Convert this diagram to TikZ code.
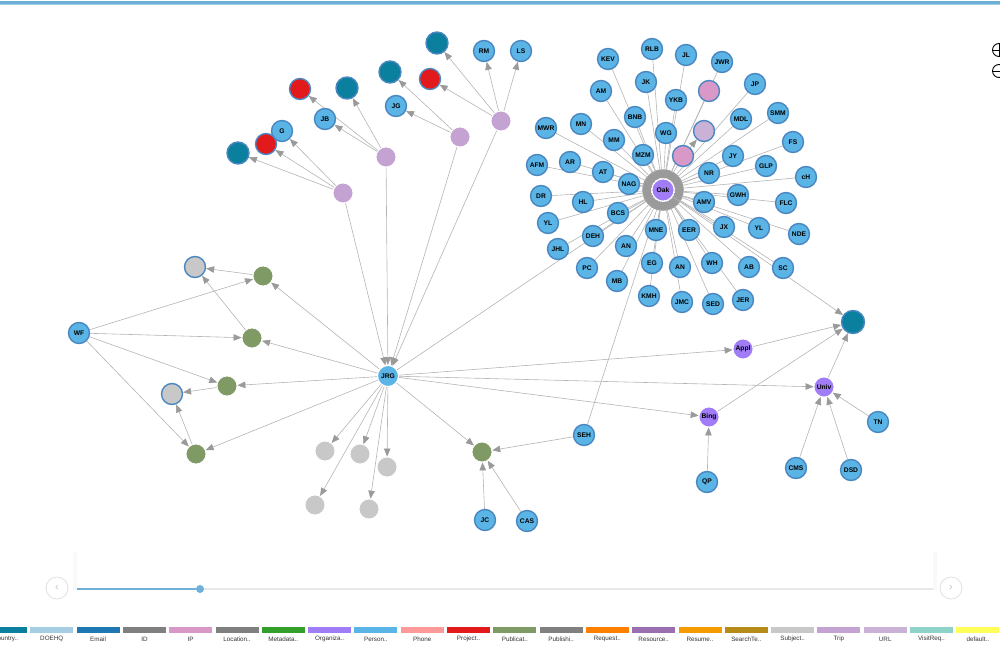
\documentclass[tikz,border=0pt]{standalone}
\usepackage{fontspec}
\setmainfont{Liberation Sans}
\usetikzlibrary{arrows.meta}
\definecolor{countryc}{HTML}{0B7F9E}
\definecolor{doehqc}{HTML}{A6CEE3}
\definecolor{emailc}{HTML}{1F78B4}
\definecolor{idc}{HTML}{808080}
\definecolor{ipc}{HTML}{D899C8}
\definecolor{metac}{HTML}{33A02C}
\definecolor{orgc}{HTML}{A07CF6}
\definecolor{personc}{HTML}{5AB4E5}
\definecolor{phonec}{HTML}{FB9A99}
\definecolor{projc}{HTML}{E31A1C}
\definecolor{pubc}{HTML}{7F9A65}
\definecolor{requestc}{HTML}{FF7F00}
\definecolor{resourcec}{HTML}{9A6FB0}
\definecolor{resumec}{HTML}{F59B00}
\definecolor{searchc}{HTML}{B58A17}
\definecolor{subjc}{HTML}{C8C8C8}
\definecolor{tripc}{HTML}{C4A3D3}
\definecolor{urlc}{HTML}{CAB2D6}
\definecolor{visitc}{HTML}{8DD3C7}
\definecolor{defc}{HTML}{FFFF5A}
\definecolor{bordc}{HTML}{4A86C0}
\definecolor{edgec}{HTML}{B4B4B4}
\definecolor{arrc}{HTML}{9A9A9A}
\definecolor{topc}{HTML}{6BAED6}
\definecolor{topc2}{HTML}{A5CDE6}
\definecolor{slidec}{HTML}{6FB0DA}
\newcommand\nodefont{\fontsize{6.7}{7}\selectfont\bfseries}
\newcommand\legfont{\fontsize{6.3}{7}\selectfont}
\pgfdeclarelayer{bg}
\pgfsetlayers{bg,main}
\tikzset{
  nd/.style={circle, inner sep=0pt, minimum size=21pt, font=\nodefont, text=black},
  person/.style={nd, fill=personc, draw=bordc, line width=1.4pt},
  teal/.style={nd, fill=countryc, draw=bordc, line width=1.4pt, minimum size=22pt},
  proj/.style={nd, fill=projc, draw=bordc, line width=1.4pt},
  ipn/.style={nd, fill=ipc, draw=bordc, line width=1.4pt},
  urln/.style={nd, fill=urlc, draw=bordc, line width=1.4pt},
  org/.style={nd, fill=orgc, draw=white, line width=0.8pt, minimum size=20pt},
  trip/.style={nd, fill=tripc, draw=white, line width=0.8pt, minimum size=20pt},
  pub/.style={nd, fill=pubc, draw=white, line width=0.8pt, minimum size=20pt},
  subj/.style={nd, fill=subjc, draw=white, line width=0.8pt, minimum size=20pt},
  subjb/.style={nd, fill=subjc, draw=bordc, line width=1.4pt},
  edge/.style={draw=edgec, line width=0.6pt, -{Triangle[length=8pt,width=6.5pt,color=arrc]}},
  btn/.style={circle, draw=gray!25, line width=0.8pt, minimum size=22pt, inner sep=0pt, text=gray!45, font=\fontsize{11}{11}\selectfont},
}
\begin{document}
\begin{tikzpicture}[x=1pt,y=-1pt]
\useasboundingbox (0,0) rectangle (1000,650);
% top bar
\fill[topc] (0,1) rectangle (1000,4);
\fill[topc2] (0,4) rectangle (1000,5.2);

% ---------- Oak cluster ----------
\node[org, minimum size=22pt] (Oak) at (663,190) {Oak};
\node[person] (KEV) at (608,59) {KEV};
\node[person] (RLB) at (652,49) {RLB};
\node[person] (JL) at (686,55) {JL};
\node[person] (JWR) at (722,62) {JWR};
\node[person] (JK) at (646,82) {JK};
\node[person] (AM) at (601,91) {AM};
\node[person] (JP) at (755,84) {JP};
\node[person] (YKB) at (676,100) {YKB};
\node[person] (SMM) at (778,113) {SMM};
\node[person] (BNB) at (635,117) {BNB};
\node[person] (MDL) at (741,119) {MDL};
\node[person] (MN) at (581,124) {MN};
\node[person] (MWR) at (546,128) {MWR};
\node[person] (WG) at (666,133) {WG};
\node[person] (MM) at (614,140) {MM};
\node[person] (FS) at (793,142) {FS};
\node[person] (MZM) at (643,155) {MZM};
\node[person] (JY) at (733,156) {JY};
\node[person] (AR) at (570,162) {AR};
\node[person] (AFM) at (537,165) {AFM};
\node[person] (GLP) at (766,166) {GLP};
\node[person] (AT) at (603,172) {AT};
\node[person] (NR) at (709,173) {NR};
\node[person] (cH) at (806,177) {cH};
\node[person] (NAG) at (629,184) {NAG};
\node[person] (DR) at (541,196) {DR};
\node[person] (HL) at (583,202) {HL};
\node[person] (GWH) at (738,195) {GWH};
\node[person] (AMV) at (704,202) {AMV};
\node[person] (FLC) at (786,203) {FLC};
\node[person] (BCS) at (618,213) {BCS};
\node[person] (YLa) at (548,223) {YL};
\node[person] (MNE) at (656,230) {MNE};
\node[person] (EER) at (689,230) {EER};
\node[person] (JX) at (724,227) {JX};
\node[person] (YLb) at (759,228) {YL};
\node[person] (NDE) at (799,234) {NDE};
\node[person] (DEH) at (593,236) {DEH};
\node[person] (ANa) at (626,246) {AN};
\node[person] (JHL) at (558,249) {JHL};
\node[person] (EG) at (652,263) {EG};
\node[person] (ANb) at (680,267) {AN};
\node[person] (WH) at (712,263) {WH};
\node[person] (AB) at (749,267) {AB};
\node[person] (SC) at (783,268) {SC};
\node[person] (PC) at (587,268) {PC};
\node[person] (MB) at (617,281) {MB};
\node[person] (KMH) at (649,296) {KMH};
\node[person] (JMC) at (682,302) {JMC};
\node[person] (SED) at (713,304) {SED};
\node[person] (JER) at (743,300) {JER};
\node[ipn] (ipA) at (709,91) {};
\node[ipn] (ipB) at (683,156) {};
\node[urln] (urlA) at (704,131) {};

% ---------- top-left cluster ----------
\node[teal] (cA) at (437,43) {};
\node[person] (RM) at (484,51) {RM};
\node[person] (LS) at (521,51) {LS};
\node[teal] (cB) at (390,72) {};
\node[proj] (pA) at (430,79) {};
\node[teal] (cC) at (347,88) {};
\node[proj] (pB) at (300,89) {};
\node[person] (JG) at (396,106) {JG};
\node[person] (JB) at (325,119) {JB};
\node[trip] (tD) at (501,121) {};
\node[person] (G) at (282,131) {G};
\node[trip] (tC) at (460,137) {};
\node[proj] (pC) at (266,144) {};
\node[teal] (cD) at (238,153) {};
\node[trip] (tB) at (386,157) {};
\node[trip] (tA) at (343,193) {};

% ---------- JRG & left ----------
\node[nd, fill=personc, draw=white, line width=1pt] (JRG) at (388,376) {JRG};
\node[person] (WF) at (79,333) {WF};
\node[subjb] (sA) at (195,267) {};
\node[pub] (puA) at (263,276) {};
\node[pub] (puB) at (252,338) {};
\node[pub] (puC) at (227,386) {};
\node[subjb] (sB) at (172,394) {};
\node[pub] (puD) at (196,454) {};
\node[subj] (gA) at (325,451) {};
\node[subj] (gB) at (360,454) {};
\node[subj] (gC) at (387,467) {};
\node[subj] (gD) at (315,505) {};
\node[subj] (gE) at (369,509) {};
\node[pub] (puE) at (482,452) {};
\node[person] (JC) at (485,520) {JC};
\node[person] (CAS) at (527,521) {CAS};
\node[person] (SEH) at (584,435) {SEH};

% ---------- right ----------
\node[teal, minimum size=23pt] (cE) at (853,322) {};
\node[org] (Appl) at (743,349) {Appl};
\node[org] (Univ) at (824,387) {Univ};
\node[org] (Bing) at (709,417) {Bing};
\node[person] (TN) at (878,422) {TN};
\node[person] (QP) at (707,482) {QP};
\node[person] (CMS) at (796,468) {CMS};
\node[person] (DSD) at (851,470) {DSD};

\begin{pgfonlayer}{bg}
  % ring of arrowheads round Oak
  \draw[arrc, line width=8.5pt] (Oak.center) circle (16.5pt);
  \foreach \n in {KEV,RLB,JL,JWR,JK,AM,JP,YKB,SMM,BNB,MDL,MN,MWR,WG,MM,FS,MZM,JY,AR,AFM,GLP,AT,NR,cH,NAG,DR,HL,GWH,AMV,FLC,BCS,YLa,MNE,EER,JX,YLb,NDE,DEH,ANa,JHL,EG,ANb,WH,AB,SC,PC,MB,KMH,JMC,SED,JER,ipA,ipB,JRG,SEH}
    \draw[edge] (\n) -- (Oak);
  \draw[edge] (ipB) -- (urlA);
  \draw[edge] (Oak) -- (cE);
  % trips
  \draw[edge] (tA) -- (cD);
  \draw[edge] (tA) -- (pC);
  \draw[edge] (tA) -- (G);
  \draw[edge] (tB) -- (JB);
  \draw[edge] (tB) -- (pB);
  \draw[edge] (tB) -- (cC);
  \draw[edge] (tC) -- (JG);
  \draw[edge] (tC) -- (cB);
  \draw[edge] (tD) -- (pA);
  \draw[edge] (tD) -- (cA);
  \draw[edge] (tD) -- (RM);
  \draw[edge] (tD) -- (LS);
  \draw[edge] (tA) -- (JRG);
  \draw[edge] (tB) -- (JRG);
  \draw[edge] (tC) -- (JRG);
  \draw[edge] (tD) -- (JRG);
  % left
  \draw[edge] (WF) -- (puA);
  \draw[edge] (WF) -- (puB);
  \draw[edge] (WF) -- (puC);
  \draw[edge] (WF) -- (puD);
  \draw[edge] (puA) -- (sA);
  \draw[edge] (puB) -- (sA);
  \draw[edge] (puC) -- (sB);
  \draw[edge] (puD) -- (sB);
  \draw[edge] (JRG) -- (puA);
  \draw[edge] (JRG) -- (puB);
  \draw[edge] (JRG) -- (puC);
  \draw[edge] (JRG) -- (puD);
  % bottom
  \draw[edge] (JRG) -- (gA);
  \draw[edge] (JRG) -- (gB);
  \draw[edge] (JRG) -- (gC);
  \draw[edge] (JRG) -- (gD);
  \draw[edge] (JRG) -- (gE);
  \draw[edge] (JRG) -- (puE);
  \draw[edge] (SEH) -- (puE);
  \draw[edge] (JC) -- (puE);
  \draw[edge] (CAS) -- (puE);
  % right
  \draw[edge] (JRG) -- (Appl);
  \draw[edge] (JRG) -- (Univ);
  \draw[edge] (JRG) -- (Bing);
  \draw[edge] (Appl) -- (cE);
  \draw[edge] (Bing) -- (cE);
  \draw[edge] (Univ) -- (cE);
  \draw[edge] (QP) -- (Bing);
  \draw[edge] (CMS) -- (Univ);
  \draw[edge] (DSD) -- (Univ);
  \draw[edge] (TN) -- (Univ);
\end{pgfonlayer}

% zoom buttons
\node[circle, draw=black, line width=0.9pt, minimum size=13pt, inner sep=0pt] (zin) at (999,50) {};
\draw[line width=0.9pt] (zin.west) -- (zin.east) (zin.north) -- (zin.south);
\node[circle, draw=black, line width=0.9pt, minimum size=13pt, inner sep=0pt] (zout) at (999,71) {};
\draw[line width=0.9pt] (zout.west) -- (zout.east);

% slider
\fill[gray!5] (73,552) rectangle (77,590);
\fill[gray!5] (933,552) rectangle (937,590);
\node[btn] (prev) at (57,588) {\symbol{"2039}};
\node[btn] (next) at (951,588) {\symbol{"203A}};
\coordinate (s0) at (75,589);
\coordinate (s1) at (935,589);
\node[circle, fill=slidec, minimum size=8pt, inner sep=0pt] (knob) at (200,589) {};
\begin{pgfonlayer}{bg}
\draw[gray!18, line width=2pt] (s0) -- (s1);
\draw[slidec, line width=2pt] (s0) -- (knob);
\end{pgfonlayer}

% legend
\foreach \c/\t [count=\i from 0] in {countryc/Country..,doehqc/DOEHQ,emailc/Email,idc/ID,ipc/IP,idc/Location..,metac/Metadata..,orgc/Organiza..,personc/Person..,phonec/Phone,projc/Project..,pubc/Publicat..,idc/Publishi..,requestc/Request..,resourcec/Resource..,resumec/Resume..,searchc/SearchTe..,subjc/Subject..,tripc/Trip,urlc/URL,visitc/VisitReq..,defc/default..}{
  \pgfmathsetmacro\xs{-16+46.3*\i}
  \fill[\c] (\xs,627) rectangle ++(43,6);
  \node[font=\legfont, text=black!80, inner sep=0pt] (leg\i) at (\xs+21.5,639) {\t};
}
\end{tikzpicture}
\end{document}
